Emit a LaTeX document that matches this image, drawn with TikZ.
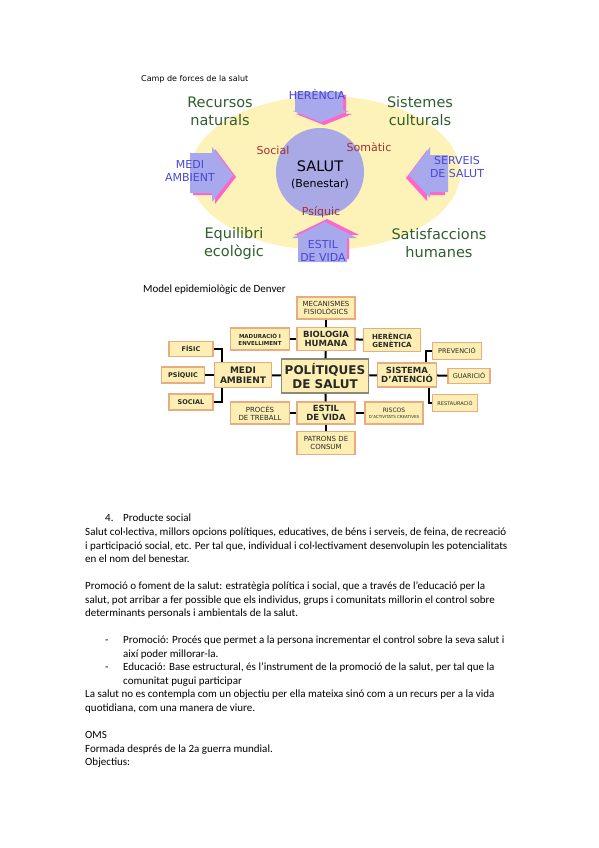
\documentclass[tikz,border=0pt]{standalone}
\usepackage{fontspec}
\setmainfont{Carlito}
\newfontfamily\diagfont{DejaVu Sans}
\usetikzlibrary{positioning}

\definecolor{ovalfill}{RGB}{253,242,184}
\definecolor{salutfill}{RGB}{169,169,230}
\definecolor{arrowblue}{RGB}{168,168,236}
\definecolor{arrowpink}{RGB}{255,102,204}
\definecolor{labelblue}{RGB}{72,72,212}
\definecolor{forcegreen}{RGB}{47,95,47}
\definecolor{forcered}{RGB}{163,48,48}
\definecolor{boxfill}{RGB}{253,239,180}
\definecolor{boxedge}{RGB}{233,172,128}
\definecolor{centeredge}{RGB}{138,138,122}
\definecolor{boxtext}{RGB}{40,40,40}

\tikzset{
  boxnode/.style={draw=boxedge, fill=boxfill, line width=1.2pt, inner sep=0pt, align=center, text=boxtext},
  mainbox/.style={boxnode, minimum width=58pt, minimum height=23pt, font=\diagfont\bfseries\fontsize{8.5}{9.5}\selectfont},
  leafbox/.style={boxnode, font=\diagfont\fontsize{7}{8}\selectfont},
  boldleaf/.style={boxnode, font=\diagfont\bfseries\fontsize{6.5}{7.5}\selectfont},
  link/.style={line width=2pt, black},
  textline/.style={anchor=base west, inner sep=0pt, font=\fontsize{11}{13}\selectfont},
  force/.style={text=forcegreen, align=center, font=\diagfont\fontsize{14.5}{18}\selectfont},
  arrowlabel/.style={text=labelblue, align=center, font=\diagfont\fontsize{11}{12.5}\selectfont},
  facet/.style={text=forcered, font=\diagfont\fontsize{11}{12}\selectfont},
}

\begin{document}
\begin{tikzpicture}[x=1pt, y=-1pt]
	\useasboundingbox (0,0) rectangle (599,848);
	\fill[white] (0,0) rectangle (599,848);

	% camp de forces
	\node[anchor=base west, inner sep=0pt, font=\diagfont\fontsize{8}{9}\selectfont] (campcap) at (141,82) {Camp de forces de la salut};
	\fill[ovalfill] (325,173) ellipse [x radius=135pt, y radius=77pt];
	\fill[salutfill] (320,172) circle [radius=44pt];

	\fill[arrowpink, shift={(3,3)}] (295,92) -- (343,92) -- (343,111) -- (349,111) -- (321,122) -- (293,111) -- (295,111) -- cycle;
	\fill[arrowblue] (295,92) -- (343,92) -- (343,111) -- (349,111) -- (321,122) -- (293,111) -- (295,111) -- cycle;
	\fill[arrowpink, shift={(3,2)}] (190,153) -- (212,153) -- (212,147) -- (233,175) -- (212,202) -- (212,193) -- (190,193) -- cycle;
	\fill[arrowblue] (190,153) -- (212,153) -- (212,147) -- (233,175) -- (212,202) -- (212,193) -- (190,193) -- cycle;
	\fill[arrowpink, shift={(-3,3)}] (448,155) -- (430,155) -- (430,147) -- (409,175) -- (430,198) -- (430,192) -- (448,192) -- cycle;
	\fill[arrowblue] (448,155) -- (430,155) -- (430,147) -- (409,175) -- (430,198) -- (430,192) -- (448,192) -- cycle;
	\fill[arrowpink, shift={(2,-3)}] (298,262) -- (298,238) -- (292,238) -- (325,222) -- (357,238) -- (347,238) -- (347,262) -- cycle;
	\fill[arrowblue] (298,262) -- (298,238) -- (292,238) -- (325,222) -- (357,238) -- (347,238) -- (347,262) -- cycle;

	\node[align=center, font=\diagfont\fontsize{14.5}{15}\selectfont] (salut) at (320,166) {SALUT};
	\node[align=center, font=\diagfont\fontsize{11}{12}\selectfont] (benestar) at (320,184) {(Benestar)};

	\node[force] (recursos) at (220,111) {Recursos\\naturals};
	\node[force] (sistemes) at (420,111) {Sistemes\\culturals};
	\node[force] (equilibri) at (234,243) {Equilibri\\ecològic};
	\node[force] (satisf) at (439,243) {Satisfaccions\\humanes};

	\node[arrowlabel] (herencia) at (317,94) {HERÈNCIA};
	\node[arrowlabel] (medi) at (190,171) {MEDI\\AMBIENT};
	\node[arrowlabel] (serveis) at (457,167) {SERVEIS\\DE SALUT};
	\node[arrowlabel] (estil) at (323,251) {ESTIL\\DE VIDA};

	\node[facet] (social) at (273,150) {Social};
	\node[facet] (somatic) at (369,147) {Somàtic};
	\node[facet] (psiquic) at (321,212) {Psíquic};

	% model de Denver
	\node[anchor=base west, inner sep=0pt, font=\fontsize{11}{13}\selectfont] (denvercap) at (143,292) {Model epidemiològic de Denver};

	\node[boxnode, draw=centeredge, line width=1.5pt, minimum width=87pt, minimum height=34pt, font=\diagfont\bfseries\fontsize{12}{14}\selectfont] (politiques) at (325,376) {POLÍTIQUES\\DE SALUT};
	\node[mainbox] (biologia) at (326,339) {BIOLOGIA\\HUMANA};
	\node[mainbox, minimum width=57pt, minimum height=25pt, font=\diagfont\bfseries\fontsize{9}{10}\selectfont] (ambient) at (243,375) {MEDI\\AMBIENT};
	\node[mainbox, minimum width=59pt, minimum height=24pt] (sistema) at (407,375) {SISTEMA\\D’ATENCIÓ};
	\node[mainbox, minimum height=22pt] (vida) at (326,413) {ESTIL\\DE VIDA};

	\node[leafbox, minimum width=58pt, minimum height=22pt] (mecanismes) at (326,308) {MECANISMES\\FISIOLÒGICS};
	\node[boldleaf, minimum width=59pt, minimum height=22pt, font=\diagfont\bfseries\fontsize{5.5}{7}\selectfont] (maduracio) at (260,339) {MADURACIÓ I\\ENVELLIMENT};
	\node[boldleaf, minimum width=57pt, minimum height=23pt, font=\diagfont\bfseries\fontsize{7}{8}\selectfont] (genetica) at (392,340) {HERÈNCIA\\GENÈTICA};
	\node[boldleaf, minimum width=44pt, minimum height=15pt] (fisic) at (191,349) {FÍSIC};
	\node[boldleaf, minimum width=43pt, minimum height=16pt] (psiq) at (183,375) {PSÍQUIC};
	\node[boldleaf, minimum width=44pt, minimum height=16pt] (soc) at (191,402) {SOCIAL};
	\node[leafbox, minimum width=49pt, minimum height=17pt, font=\diagfont\fontsize{6.5}{7.5}\selectfont] (prevencio) at (457,351) {PREVENCIÓ};
	\node[leafbox, minimum width=42pt, minimum height=15pt, font=\diagfont\fontsize{6.5}{7.5}\selectfont] (guaricio) at (469,376) {GUARICIÓ};
	\node[leafbox, minimum width=45pt, minimum height=17pt, font=\diagfont\fontsize{5}{6}\selectfont] (restauracio) at (455,403) {RESTAURACIÓ};
	\node[leafbox, minimum width=59pt, minimum height=22pt] (treball) at (260,413) {PROCÉS\\DE TREBALL};
	\node[leafbox, minimum width=58pt, minimum height=22pt, font=\diagfont\fontsize{4}{6}\selectfont] (riscos) at (394,413) {{\fontsize{6}{7}\selectfont RISCOS}\\D’ACTIVITATS CREATIVES};
	\node[leafbox, minimum width=58pt, minimum height=23pt] (consum) at (326,443) {PATRONS DE\\CONSUM};

	\draw[link] (mecanismes) -- (biologia);
	\draw[link] (biologia) -- (politiques);
	\draw[link] (maduracio) -- (biologia);
	\draw[link] (biologia) -- (genetica);
	\draw[link] (ambient) -- (politiques);
	\draw[link] (politiques) -- (sistema);
	\draw[link] (politiques) -- (vida);
	\draw[link] (treball) -- (vida);
	\draw[link] (vida) -- (riscos);
	\draw[link] (vida) -- (consum);
	\draw[link] (psiq) -- (ambient);
	\draw[link] (fisic.east) -| ([xshift=8.5pt]ambient.north west);
	\draw[link] (soc.east) -| ([xshift=8.5pt]ambient.south west);
	\draw[link] (sistema) -- (guaricio);
	\draw[link] ([xshift=-11.5pt]sistema.north east) |- (prevencio.west);
	\draw[link] ([xshift=-8.5pt]sistema.south east) |- (restauracio.west);

	% text de la pagina
	\node[textline] (num) at (105,521) {4.};
	\node[textline] (producte) at (123,521) {Producte social};
	\node[textline] (p1a) at (85,535) {Salut col·lectiva, millors opcions polítiques, educatives, de béns i serveis, de feina, de recreació};
	\node[textline] (p1b) at (85,549) {i participació social, etc. Per tal que, individual i col·lectivament desenvolupin les potencialitats};
	\node[textline] (p1c) at (85,562) {en el nom del benestar.};
	\node[textline] (p2a) at (85,589) {Promoció o foment de la salut: estratègia política i social, que a través de l’educació per la};
	\node[textline] (p2b) at (85,603) {salut, pot arribar a fer possible que els individus, grups i comunitats millorin el control sobre};
	\node[textline] (p2c) at (85,616) {determinants personals i ambientals de la salut.};
	\node[textline] (dasha) at (105,643) {-};
	\node[textline] (b1a) at (123,643) {Promoció: Procés que permet a la persona incrementar el control sobre la seva salut i};
	\node[textline] (b1b) at (123,657) {així poder millorar-la.};
	\node[textline] (dashb) at (105,670) {-};
	\node[textline] (b2a) at (123,670) {Educació: Base estructural, és l’instrument de la promoció de la salut, per tal que la};
	\node[textline] (b2b) at (123,684) {comunitat pugui participar};
	\node[textline] (p3a) at (85,697) {La salut no es contempla com un objectiu per ella mateixa sinó com a un recurs per a la vida};
	\node[textline] (p3b) at (85,711) {quotidiana, com una manera de viure.};
	\node[textline] (oms) at (85,738) {OMS};
	\node[textline] (formada) at (85,752) {Formada després de la 2a guerra mundial.};
	\node[textline] (objectius) at (85,765) {Objectius:};
\end{tikzpicture}
\end{document}
